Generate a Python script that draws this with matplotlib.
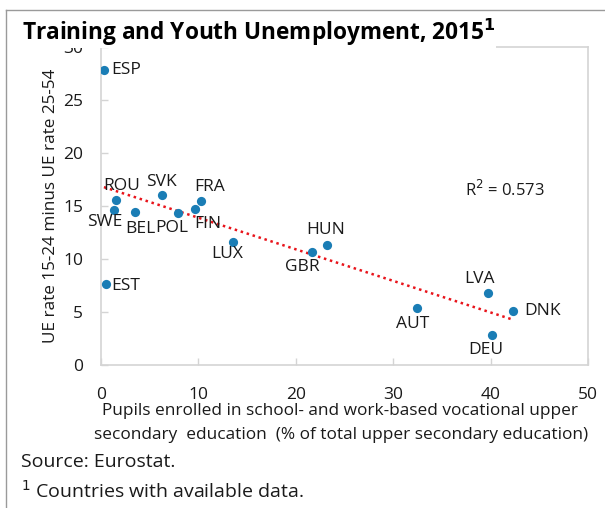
import numpy as np
import matplotlib.pyplot as plt
from matplotlib.lines import Line2D

plt.rcParams['font.family'] = ['Open Sans', 'DejaVu Sans']

countries = ["ESP", "ROU", "SWE", "BEL", "SVK", "POL", "FIN", "FRA",
             "LUX", "GBR", "HUN", "AUT", "LVA", "DNK", "DEU", "EST"]
vocational = [0.3, 1.5, 1.3, 3.5, 6.3, 7.9, 9.7, 10.3,
              13.6, 21.7, 23.2, 32.4, 39.7, 42.3, 40.1, 0.5]
ue_gap = [27.8, 15.6, 14.6, 14.4, 16.0, 14.3, 14.7, 15.5,
          11.6, 10.7, 11.3, 5.4, 6.8, 5.1, 2.8, 7.6]
# label offsets in points (dx, dy) and alignment
label_pos = {
    "ESP": (5, 0, "left", "center"),
    "ROU": (-9, 4, "left", "bottom"),
    "SWE": (-19, -3, "left", "top"),
    "BEL": (-7, -6, "left", "top"),
    "SVK": (-12, 4, "left", "bottom"),
    "POL": (-16, -5, "left", "top"),
    "FIN": (-1, -5, "left", "top"),
    "FRA": (-5, 4, "left", "bottom"),
    "LUX": (-16, -3, "left", "top"),
    "GBR": (-20, -5, "left", "top"),
    "HUN": (-15, 5, "left", "bottom"),
    "AUT": (-15, -6, "left", "top"),
    "LVA": (-17, 4, "left", "bottom"),
    "DNK": (8, 0, "left", "center"),
    "DEU": (-17, -5, "left", "top"),
    "EST": (4, -1, "left", "center"),
}
r2_text = "R$^2$ = 0.573"

fig = plt.figure(figsize=(6.05, 5.08), dpi=100)
ax = fig.add_axes([101 / 605, 1 - 365 / 508, 487 / 605, 318 / 508])

x = np.array(vocational)
y = np.array(ue_gap)
ax.scatter(x, y, s=44, color="#1a7db5", zorder=3, linewidths=0)

# linear trend
slope, intercept = np.polyfit(x, y, 1)
xs = np.array([x.min(), x.max()])
ax.plot(xs, slope * xs + intercept, color="#e8141b", lw=1.8, linestyle=(0, (1, 1.5)), zorder=2)

for c, xi, yi in zip(countries, x, y):
    dx, dy, ha, va = label_pos[c]
    ax.annotate(c, (xi, yi), xytext=(dx, dy), textcoords="offset points",
                ha=ha, va=va, fontsize=12.5, color="#1a1a1a")

ax.text(37.4, 16.5, r2_text, fontsize=12, color="#1a1a1a", ha="left", va="center")

ax.set_xlim(0, 50)
ax.set_ylim(0, 30)
ax.set_xticks([0, 10, 20, 30, 40, 50])
ax.set_yticks([0, 5, 10, 15, 20, 25, 30])
for s in ax.spines.values():
    s.set_color("#d4d4d4")
    s.set_linewidth(1.2)
ax.tick_params(axis="both", direction="in", length=5, color="#d4d4d4", width=1,
               labelsize=12.5, labelcolor="#1a1a1a")
ax.tick_params(axis="x", pad=16)
ax.tick_params(axis="y", pad=13)

ax.set_ylabel("UE rate 15-24 minus UE rate 25-54", fontsize=12.3, color="#1a1a1a", labelpad=3)

fig.text(340 / 605, 1 - 411 / 508, "Pupils enrolled in school- and work-based vocational upper",
         ha="center", va="center", fontsize=12.4, color="#1a1a1a")
fig.text(341 / 605, 1 - 435 / 508, "secondary  education  (% of total upper secondary education)",
         ha="center", va="center", fontsize=12.4, color="#1a1a1a")
fig.text(21 / 605, 1 - 462 / 508, "Source: Eurostat.", ha="left", va="center",
         fontsize=14, color="#1a1a1a")
fig.text(21 / 605, 1 - 491 / 508, "$^1$ Countries with available data.", ha="left", va="center",
         fontsize=14, color="#1a1a1a")

fig.text(22 / 605, 1 - 32 / 508, "Training and Youth Unemployment, 2015$^\\mathbf{1}$",
         ha="left", va="center", fontsize=16.3, fontweight="bold", color="black",
         bbox=dict(facecolor="white", edgecolor="none", pad=0.5), zorder=10)

# outer frame lines
fig.add_artist(Line2D([6 / 605, 6 / 605], [0, 1 - 10 / 508], color="#9a9a9a", lw=1))
fig.add_artist(Line2D([6 / 605, 1], [1 - 10 / 508, 1 - 10 / 508], color="#9a9a9a", lw=1))

fig.savefig("out.png", dpi=100)
